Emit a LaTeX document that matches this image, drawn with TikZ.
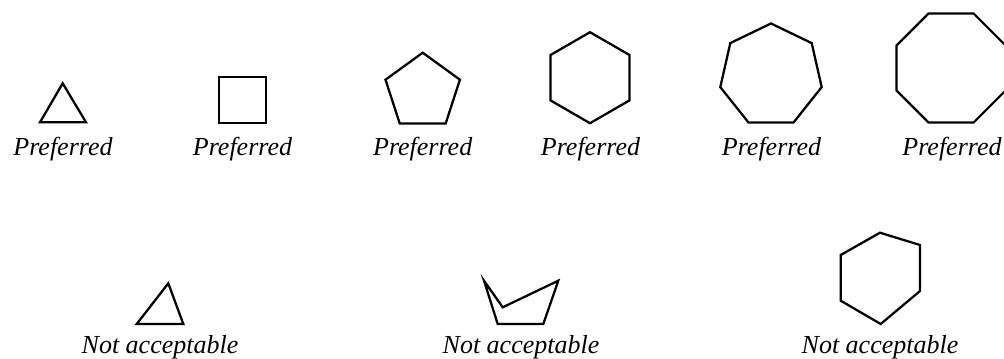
\documentclass[tikz,border=0pt]{standalone}
\usepackage{fontspec}
\setmainfont{Liberation Serif}
\begin{document}
\begin{tikzpicture}[x=0.75pt,y=-0.75pt,
  shp/.style={draw=black,line width=1.7pt,line join=miter},
  lbl/.style={anchor=base,inner sep=0pt,font=\fontsize{19.5pt}{23pt}\selectfont\itshape}]
\useasboundingbox (0,0) rectangle (1004,358);
\clip (0,0) rectangle (1004,358);
% top row
\draw[shp] (62.7,83.3) -- (86,122.3) -- (40,122.3) -- cycle;
\draw[shp] (219.3,77.3) rectangle (265.7,123.3);
\draw[shp] (422.7,52.7) -- (459.9,79.7) -- (445.7,123.4) -- (399.7,123.4) -- (385.5,79.7) -- cycle;
\draw[shp] (590,32.2) -- (629.4,54.95) -- (629.4,100.45) -- (590,123.2) -- (550.6,100.45) -- (550.6,54.95) -- cycle;
\draw[shp] (771,23.5) -- (811.7,43.1) -- (821.7,87.1) -- (793.6,122.4) -- (748.4,122.4) -- (720.3,87.1) -- (730.3,43.1) -- cycle;
\draw[shp] (928.4,13.5) -- (973.6,13.5) -- (1005.5,45.4) -- (1005.5,90.6) -- (973.6,122.5) -- (928.4,122.5) -- (896.5,90.6) -- (896.5,45.4) -- cycle;
\node[lbl] (p1) at (63,155) {Preferred};
\node[lbl] (p2) at (242.5,155) {Preferred};
\node[lbl] (p3) at (422.7,155) {Preferred};
\node[lbl] (p4) at (590.5,155) {Preferred};
\node[lbl] (p5) at (771.5,155) {Preferred};
\node[lbl] (p6) at (952,155) {Preferred};
% bottom row
\draw[shp] (168.3,283.3) -- (183.3,324) -- (136.7,324) -- cycle;
\draw[shp] (484,280.7) -- (502.7,307.3) -- (558.3,280.7) -- (543.3,324) -- (497.7,324) -- cycle;
\draw[shp] (880,232.7) -- (920,245) -- (920,291) -- (880.7,324) -- (840.7,300.7) -- (840.7,255) -- cycle;
\node[lbl] (n1) at (160,353) {Not acceptable};
\node[lbl] (n2) at (521,353) {Not acceptable};
\node[lbl] (n3) at (880,353) {Not acceptable};
\end{tikzpicture}
\end{document}
